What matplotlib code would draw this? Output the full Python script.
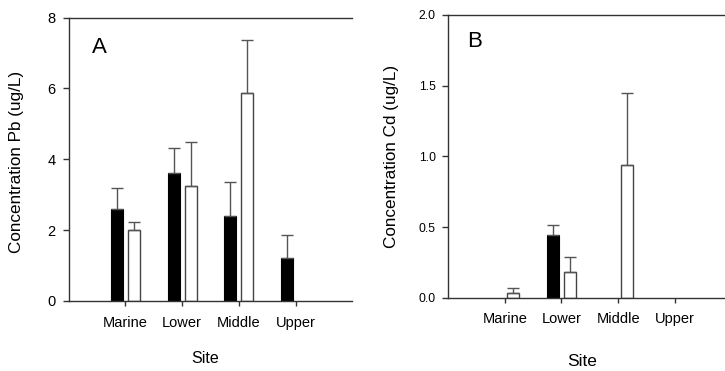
import numpy as np
import matplotlib
matplotlib.use("Agg")
import matplotlib.pyplot as plt

plt.rcParams['font.family'] = ['Liberation Sans', 'DejaVu Sans']

sites = ["Marine", "Lower", "Middle", "Upper"]

pb_black = [2.60, 3.60, 2.40, 1.22]
pb_black_err = [0.58, 0.72, 0.97, 0.64]
pb_white = [2.00, 3.24, 5.88, np.nan]
pb_white_err = [0.22, 1.25, 1.49, np.nan]

cd_black = [np.nan, 0.443, np.nan, np.nan]
cd_black_err = [np.nan, 0.073, np.nan, np.nan]
cd_white = [0.035, 0.184, 0.938, np.nan]
cd_white_err = [0.038, 0.106, 0.508, np.nan]

fig = plt.figure(figsize=(7.25, 3.71), dpi=100)
axA = fig.add_axes([0.0945, 0.1887, 0.3917, 0.764])
axB = fig.add_axes([0.618, 0.1968, 0.391, 0.7636])

x = np.arange(1, len(sites) + 1)
w = 0.21
off = 0.15
ecol = '#555555'
scol = '#333333'


def draw(ax, black, berr, white, werr, ylim, yticks, yfmt, ylabel, letter,
         tick_fs, ypad, letter_pos, ylab_x, ylab_y, site_pos, site_fs, cat_pad):
    b = np.array(black, dtype=float)
    be = np.array(berr, dtype=float)
    wv = np.array(white, dtype=float)
    we = np.array(werr, dtype=float)
    ekw = dict(ecolor=ecol, elinewidth=1.0, capsize=4.2, capthick=1.0)
    ax.bar(x - off, b, w, color='black', edgecolor='black', linewidth=0.8,
           yerr=[np.zeros_like(be), be], error_kw=ekw, zorder=2)
    ax.bar(x + off, wv, w, color='white', edgecolor='#444444', linewidth=1.0,
           yerr=[np.zeros_like(we), we], error_kw=ekw, zorder=2)
    ax.set_xlim(0, 5)
    ax.set_ylim(*ylim)
    ax.set_yticks(yticks)
    ax.set_yticklabels([yfmt.format(v) for v in yticks], fontsize=tick_fs)
    ax.set_xticks(x)
    ax.set_xticklabels(sites, fontsize=10.5)
    ax.spines['right'].set_visible(False)
    for s in ['left', 'top', 'bottom']:
        ax.spines[s].set_linewidth(1.0)
        ax.spines[s].set_color(scol)
    ax.tick_params(axis='y', direction='out', length=4.5, width=1.0, color=scol, pad=ypad)
    ax.tick_params(axis='x', direction='out', length=3.6, width=1.0, color=scol, pad=cat_pad)
    ax.set_ylabel(ylabel, fontsize=12.3)
    ax.yaxis.set_label_coords(ylab_x, ylab_y)
    ax.set_xlabel('Site', fontsize=site_fs)
    ax.xaxis.set_label_coords(site_pos[0], site_pos[1])
    ax.text(letter_pos[0], letter_pos[1], letter, transform=ax.transAxes,
            fontsize=16, ha='left', va='baseline')


draw(axA, pb_black, pb_black_err, pb_white, pb_white_err, (0, 8), [0, 2, 4, 6, 8], '{:g}',
     'Concentration Pb (ug/L)', 'A', 10.5, 5.0, (0.083, 0.875), -0.158, 0.492,
     (0.482, -0.176), 11.5, 7.5)
draw(axB, cd_black, cd_black_err, cd_white, cd_white_err, (0, 2.0), [0, 0.5, 1.0, 1.5, 2.0], '{:.1f}',
     'Concentration Cd (ug/L)', 'B', 8.8, 4.3, (0.068, 0.886), -0.173, 0.5,
     (0.473, -0.198), 12.5, 6.8)

fig.savefig('out.png', dpi=100)
